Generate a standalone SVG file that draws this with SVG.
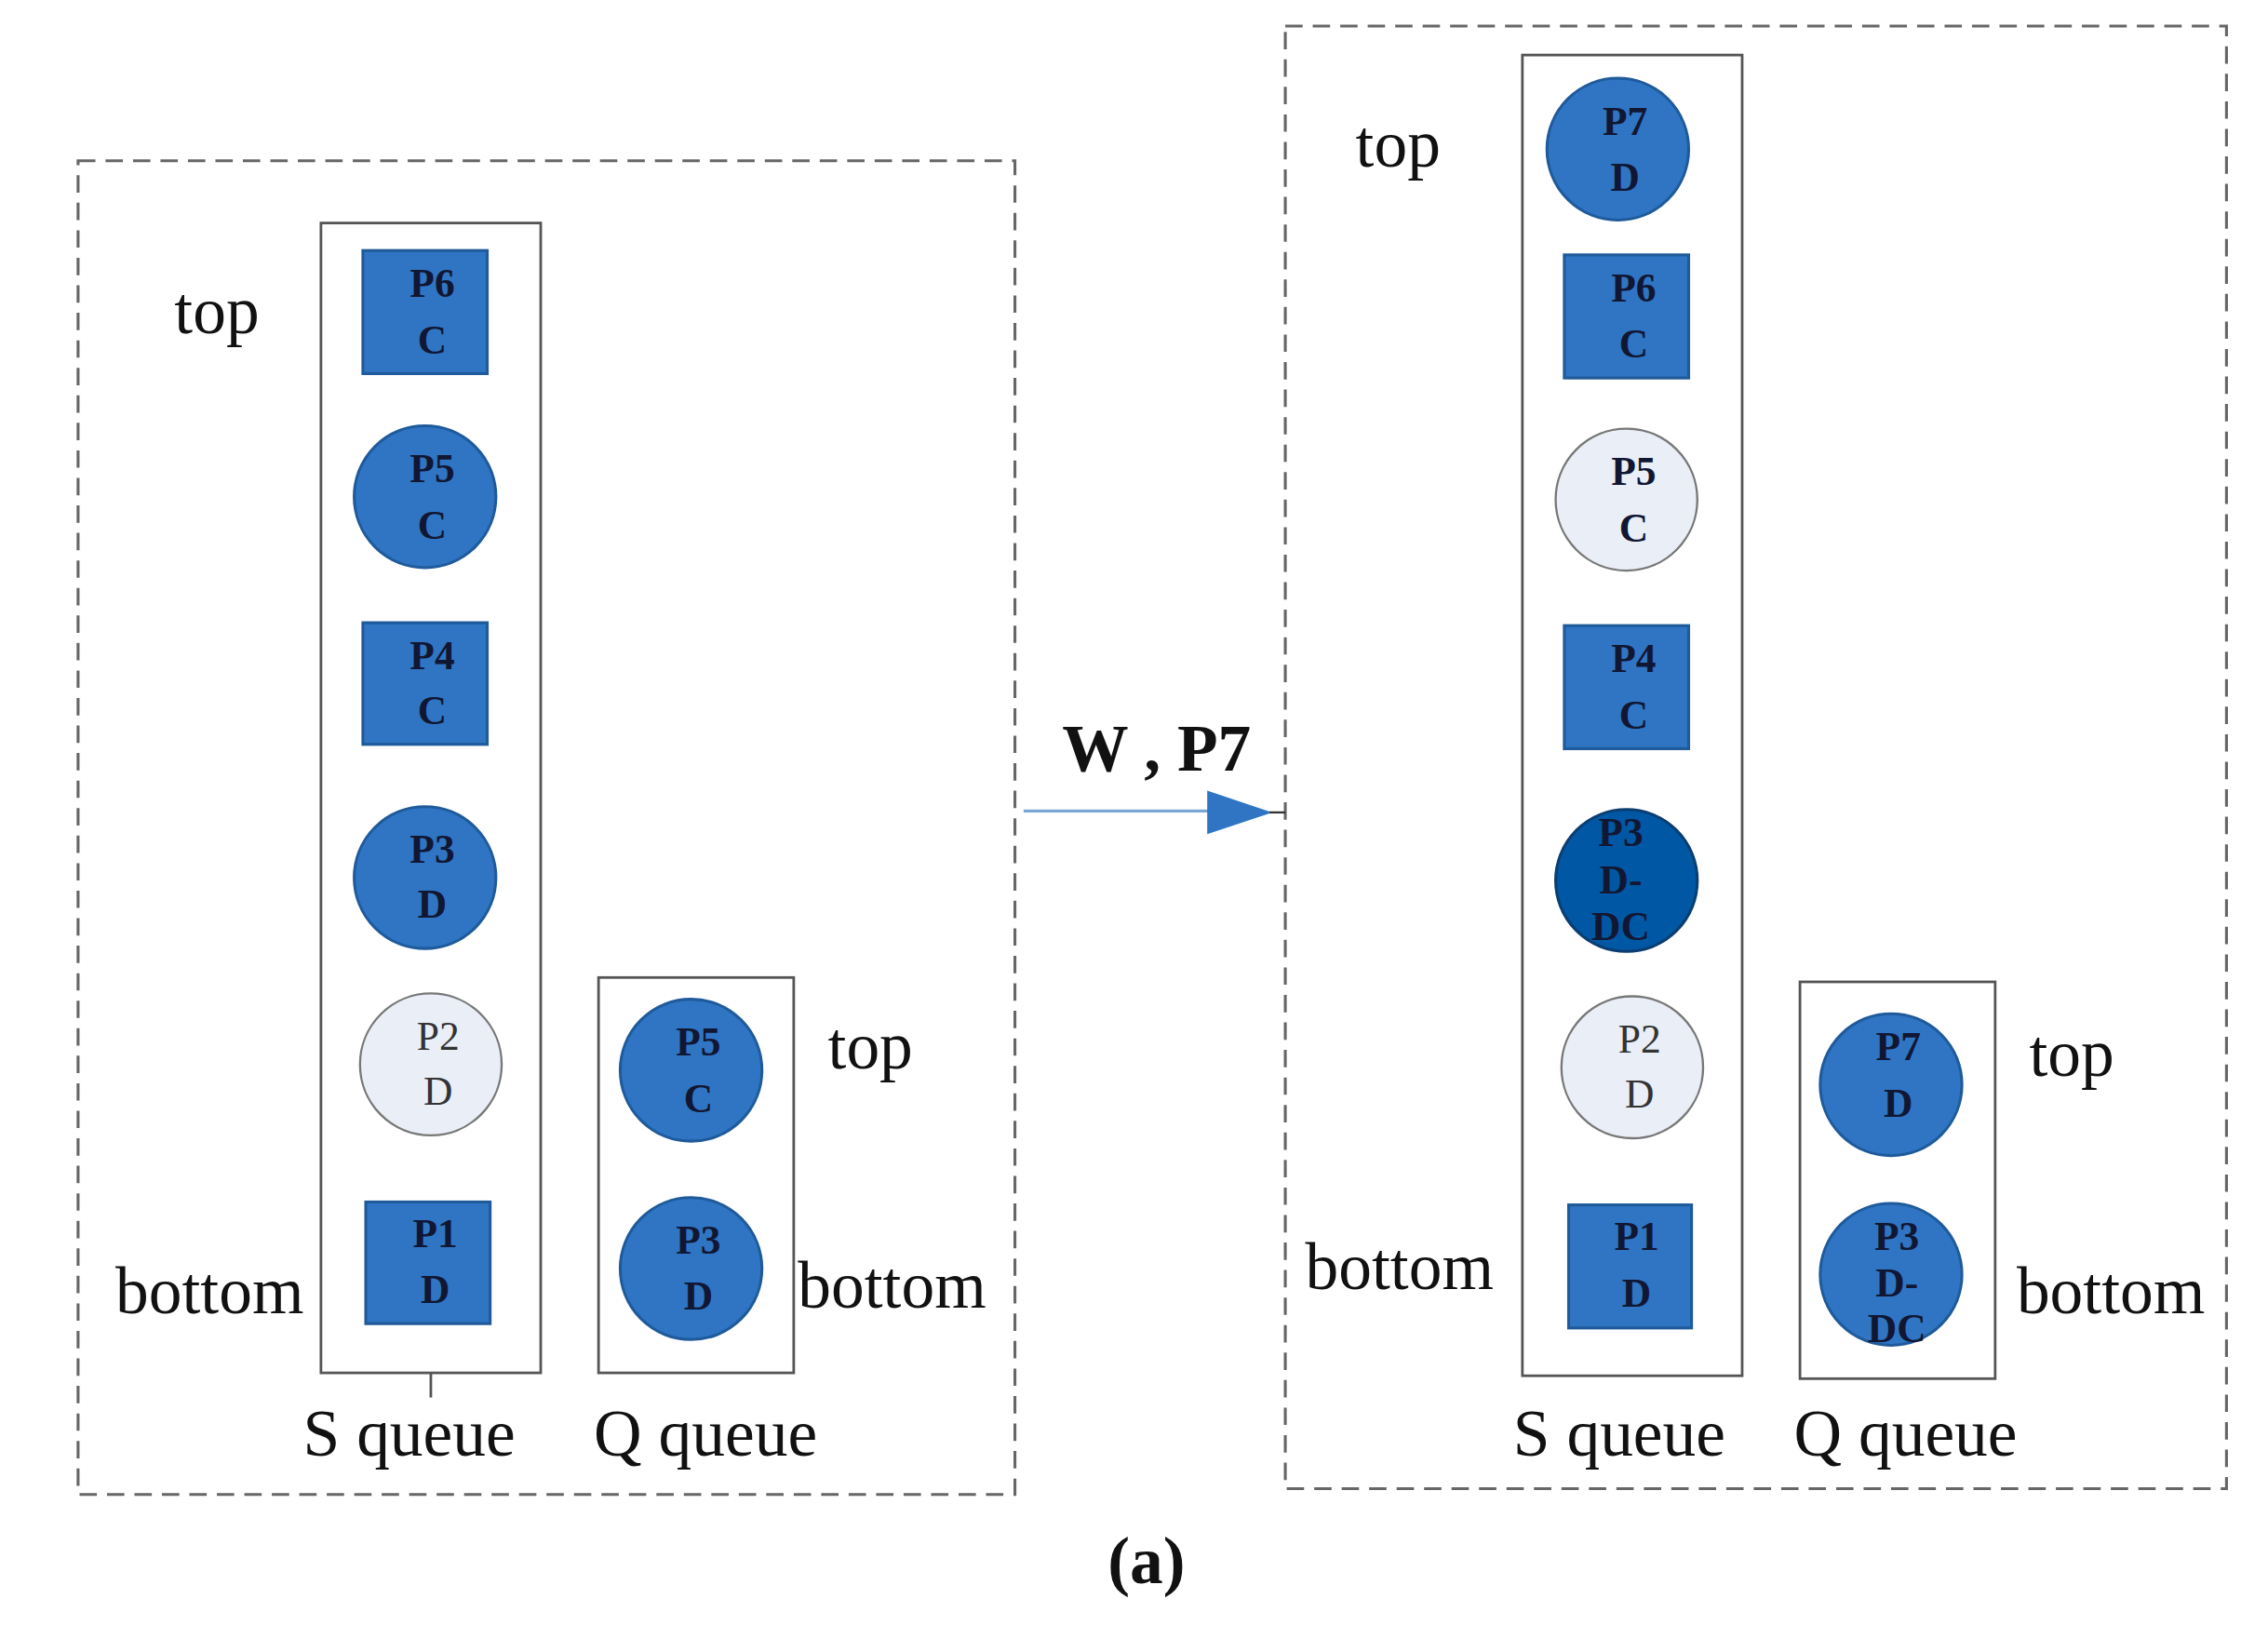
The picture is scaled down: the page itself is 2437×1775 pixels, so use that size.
<svg xmlns="http://www.w3.org/2000/svg" width="2437" height="1775" viewBox="0 0 2437 1775">
<style>
.dash{fill:none;stroke:#666;stroke-width:2;stroke-dasharray:12,7}
.q{fill:none;stroke:#555;stroke-width:1.8}
.b{fill:#2f75c4;stroke:#1f5a9a;stroke-width:2}
.l{fill:#e9eef7;stroke:#777;stroke-width:1.5}
.d{fill:#0057a3;stroke:#0a3d70;stroke-width:2}
.nt{font-family:"Liberation Serif",serif;font-weight:bold;font-size:28px;fill:#111733;text-anchor:middle}
.lt{font-family:"Liberation Serif",serif;font-size:28px;fill:#333;text-anchor:middle}
.lab{font-family:"Liberation Serif",serif;font-size:46px;fill:#111;text-anchor:middle}
</style>
<rect width="2437" height="1775" fill="#fff"/>
<g transform="scale(1.5535,1.556)">
<g id="frames">
<rect class="dash" x="54" y="111" width="648" height="921"/>
<rect class="dash" x="889" y="18" width="651" height="1010"/>
<rect class="q" x="222" y="154" width="152" height="794"/>
<line class="q" x1="298" y1="948" x2="298" y2="965"/>
<rect class="q" x="414" y="675" width="135" height="273"/>
<rect class="q" x="1053" y="38" width="152" height="912"/>
<rect class="q" x="1245" y="678" width="135" height="274"/>
</g>
<g id="labels">
<text class="lab" x="150" y="230">top</text>
<text class="lab" x="145" y="907">bottom</text>
<text class="lab" x="602" y="738">top</text>
<text class="lab" x="617" y="903">bottom</text>
<text class="lab" x="283" y="1005">S queue</text>
<text class="lab" x="488" y="1005">Q queue</text>
<text class="lab" x="967" y="115">top</text>
<text class="lab" x="968" y="890">bottom</text>
<text class="lab" x="1433" y="743">top</text>
<text class="lab" x="1460" y="907">bottom</text>
<text class="lab" x="1120" y="1005">S queue</text>
<text class="lab" x="1318" y="1005">Q queue</text>
<text class="lab" x="793" y="1093" font-weight="bold">(a)</text>
</g>
<g id="connectors">
<line x1="708" y1="560" x2="845" y2="560" stroke="#7aa7d6" stroke-width="2"/>
<polygon points="835,546 880,561 835,576" fill="#2f75c4"/>
<line x1="878" y1="561" x2="889" y2="561" stroke="#333" stroke-width="1.5"/>
<text class="lab" x="800" y="532" font-weight="bold">W , P7</text>
</g>
<g id="L-P6"><rect class="b" x="251" y="173" width="86" height="85"/><text class="nt" x="299" y="205">P6</text><text class="nt" x="299" y="244">C</text></g>
<g id="L-P5"><circle class="b" cx="294" cy="343" r="49"/><text class="nt" x="299" y="333">P5</text><text class="nt" x="299" y="372">C</text></g>
<g id="L-P4"><rect class="b" x="251" y="430" width="86" height="84"/><text class="nt" x="299" y="462">P4</text><text class="nt" x="299" y="500">C</text></g>
<g id="L-P3"><circle class="b" cx="294" cy="606" r="49"/><text class="nt" x="299" y="596">P3</text><text class="nt" x="299" y="634">D</text></g>
<g id="L-P2"><circle class="l" cx="298" cy="735" r="49"/><text class="lt" x="303" y="725">P2</text><text class="lt" x="303" y="763">D</text></g>
<g id="L-P1"><rect class="b" x="253" y="830" width="86" height="84"/><text class="nt" x="301" y="861">P1</text><text class="nt" x="301" y="900">D</text></g>
<g id="LQ-P5"><circle class="b" cx="478" cy="739" r="49"/><text class="nt" x="483" y="729">P5</text><text class="nt" x="483" y="768">C</text></g>
<g id="LQ-P3"><circle class="b" cx="478" cy="876" r="49"/><text class="nt" x="483" y="866">P3</text><text class="nt" x="483" y="904">D</text></g>
<g id="R-P7"><circle class="b" cx="1119" cy="103" r="49"/><text class="nt" x="1124" y="93">P7</text><text class="nt" x="1124" y="132">D</text></g>
<g id="R-P6"><rect class="b" x="1082" y="176" width="86" height="85"/><text class="nt" x="1130" y="208">P6</text><text class="nt" x="1130" y="247">C</text></g>
<g id="R-P5"><circle class="l" cx="1125" cy="345" r="49"/><text class="nt" x="1130" y="335">P5</text><text class="nt" x="1130" y="374">C</text></g>
<g id="R-P4"><rect class="b" x="1082" y="432" width="86" height="85"/><text class="nt" x="1130" y="464">P4</text><text class="nt" x="1130" y="503">C</text></g>
<g id="R-P3"><circle class="d" cx="1125" cy="608" r="49"/><text class="nt" x="1121" y="584">P3</text><text class="nt" x="1121" y="617">D-</text><text class="nt" x="1121" y="649">DC</text></g>
<g id="R-P2"><circle class="l" cx="1129" cy="737" r="49"/><text class="lt" x="1134" y="727">P2</text><text class="lt" x="1134" y="765">D</text></g>
<g id="R-P1"><rect class="b" x="1085" y="832" width="85" height="85"/><text class="nt" x="1132" y="863">P1</text><text class="nt" x="1132" y="902">D</text></g>
<g id="RQ-P7"><circle class="b" cx="1308" cy="749" r="49"/><text class="nt" x="1313" y="732">P7</text><text class="nt" x="1313" y="771">D</text></g>
<g id="RQ-P3"><circle class="b" cx="1308" cy="880" r="49" stroke="#0a2f5a" stroke-width="3"/><text class="nt" x="1312" y="863">P3</text><text class="nt" x="1312" y="895">D-</text><text class="nt" x="1312" y="927">DC</text></g>
</g>
</svg>
